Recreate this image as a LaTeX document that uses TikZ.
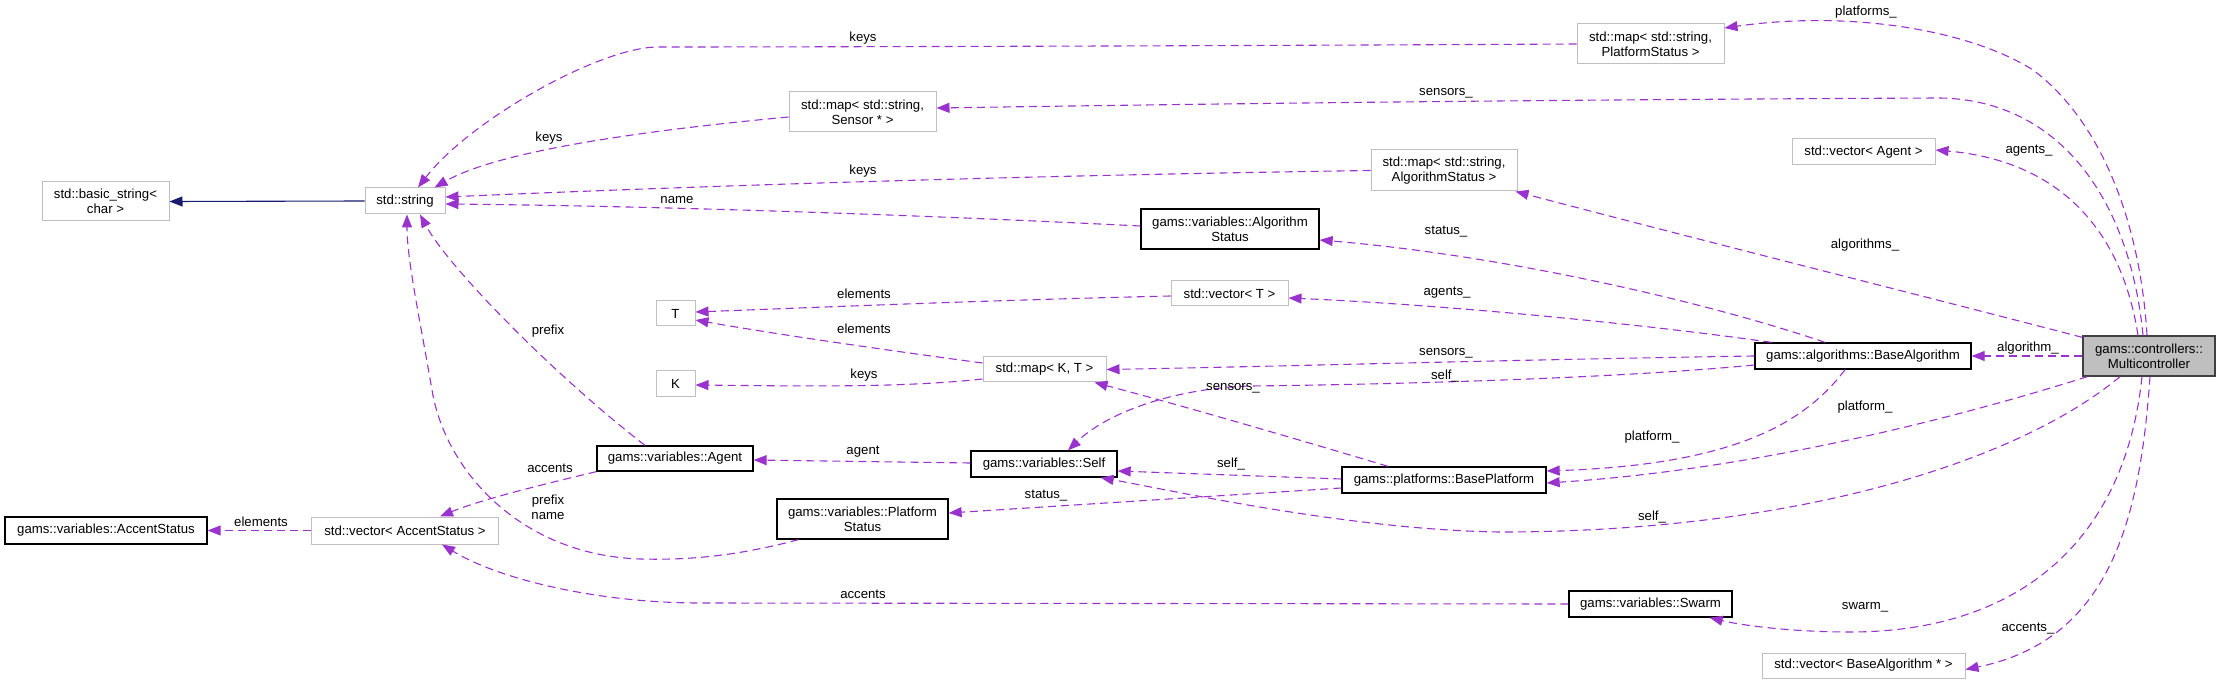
\documentclass[tikz,border=0pt]{standalone}
\usepackage{fontspec}
\setmainfont{Liberation Sans}
\usetikzlibrary{arrows.meta,calc}
\definecolor{edgec}{HTML}{9A32CD}
\definecolor{boxg}{HTML}{BFBFBF}
\definecolor{navyc}{HTML}{191970}
\definecolor{mcfill}{HTML}{BFBFBF}
\newcommand\diagfont{\fontsize{13.2}{14.7}\selectfont}
\begin{document}
\begin{tikzpicture}[x=1pt,y=-1pt,
  box/.style={rectangle, inner sep=0pt, align=center, font=\diagfont, fill=white},
  gbox/.style={box, draw=boxg, line width=1pt},
  bbox/.style={box, draw=black, line width=1.3pt},
  sz/.style 2 args={minimum width=#1pt, minimum height=#2pt},
  edge/.style={draw=edgec, line width=1.1pt, dash pattern=on 8pt off 5pt, -{Triangle[length=13pt,width=10pt]}},
  inh/.style={draw=navyc, line width=1.1pt, -{Triangle[length=13pt,width=10pt]}},
  lbl/.style={font=\diagfont, inner sep=0pt, align=center}]
\useasboundingbox (0,0) rectangle (2220,684);
% nodes
\node[gbox, sz={127}{39}] (basicstr) at (105.5,201.5) {std::basic\_string<\\char >};
\node[gbox, sz={80}{26}] (stdstring) at (405,201) {std::string};
\node[gbox, sz={147}{40}] (mapPS) at (1650.5,44) {std::map< std::string,\\PlatformStatus >};
\node[gbox, sz={147}{40}] (mapSensor) at (862.5,112) {std::map< std::string,\\Sensor * >};
\node[gbox, sz={146}{41}] (mapAS) at (1444,170.5) {std::map< std::string,\\AlgorithmStatus >};
\node[gbox, sz={143}{26}] (vecAgent) at (1863.5,152) {std::vector< Agent >};
\node[bbox, sz={178}{40}] (algStatus) at (1230,229) {gams::variables::Algorithm\\Status};
\node[gbox, sz={117}{25}] (vecT) at (1229.5,293.5) {std::vector< T >};
\node[gbox, sz={39}{25}] (nodeT) at (675.5,313.5) {T};
\node[gbox, sz={39}{26}] (nodeK) at (675.5,384) {K};
\node[gbox, sz={123}{25}] (mapKT) at (1044.5,369.5) {std::map< K, T >};
\node[bbox, sz={216}{26}] (baseAlg) at (1863,356) {gams::algorithms::BaseAlgorithm};
\node[box, draw=black!75, line width=1.3pt, fill=mcfill, sz={132}{40}] (multi) at (2149,356) {gams::controllers::\\Multicontroller};
\node[bbox, sz={156}{25}] (agent) at (675,458.5) {gams::variables::Agent};
\node[bbox, sz={146}{26}] (self) at (1044,464) {gams::variables::Self};
\node[bbox, sz={204}{26}] (basePlat) at (1444,480) {gams::platforms::BasePlatform};
\node[bbox, sz={171}{40}] (platStatus) at (862.5,519) {gams::variables::Platform\\Status};
\node[gbox, sz={187}{27}] (vecAccent) at (405,530.5) {std::vector< AccentStatus >};
\node[bbox, sz={202}{27}] (accentStatus) at (106,530.5) {gams::variables::AccentStatus};
\node[bbox, sz={163}{26}] (swarm) at (1650.5,604) {gams::variables::Swarm};
\node[gbox, sz={203}{25}] (vecBA) at (1863.5,665.5) {std::vector< BaseAlgorithm * >};
% edges
\draw[inh] (stdstring.west) -- (basicstr.east);
\draw[edge] (mapPS.west) .. controls (1200,46) and (800,47) .. (658,47) .. controls (600,47) and (470,120) .. ($(stdstring.north)+(13,0)$);
\draw[edge] ($(mapSensor.west)+(0,5)$) .. controls (650,130) and (500,150) .. ($(stdstring.north east)+(-11,0)$);
\draw[edge] (mapAS.west) .. controls (1000,176) and (700,186) .. ($(stdstring.east)+(0,-4)$);
\draw[edge] ($(algStatus.west)+(0,-3)$) .. controls (900,214) and (650,206) .. ($(stdstring.east)+(0,3)$);
\draw[edge] ($(agent.north)+(-30,0)$) .. controls (560,380) and (450,270) .. ($(stdstring.south)+(15,0)$);
\draw[edge] ($(platStatus.south west)+(22,0)$) .. controls (730,558) and (680,560) .. (640,559) .. controls (520,555) and (445,470) .. (432,390) .. controls (420,320) and (407,260) .. ($(stdstring.south)+(2,0)$);
\draw[edge] (agent.south west) .. controls (540,485) and (480,500) .. ($(vecAccent.north)+(35,0)$);
\draw[edge] (swarm.west) -- (700,603) .. controls (600,603) and (500,580) .. ($(vecAccent.south)+(37,0)$);
\draw[edge] (vecAccent.west) -- (accentStatus.east);
\draw[edge] ($(vecT.west)+(0,2.5)$) .. controls (1000,300) and (850,306) .. ($(nodeT.east)+(0,-1.5)$);
\draw[edge] ($(mapKT.west)+(0,-6.5)$) .. controls (900,352) and (780,335) .. ($(nodeT.east)+(0,6.5)$);
\draw[edge] ($(mapKT.west)+(0,9.5)$) .. controls (900,388) and (800,386) .. ($(nodeK.east)+(0,1)$);
\draw[edge] ($(baseAlg.north west)+(17,0)$) .. controls (1650,325) and (1450,305) .. ($(vecT.east)+(0,4.5)$);
\draw[edge] (baseAlg.west) .. controls (1500,360) and (1300,366) .. (mapKT.east);
\draw[edge] ($(baseAlg.west)+(0,9)$) .. controls (1600,380) and (1350,385) .. (1250,386) .. controls (1180,388) and (1110,410) .. ($(self.north)+(24,0)$);
\draw[edge] ($(basePlat.north)+(-56,0)$) .. controls (1300,440) and (1180,405) .. ($(mapKT.south east)+(-12,0)$);
\draw[edge] ($(basePlat.west)+(0,-1)$) -- ($(self.east)+(0,7)$);
\draw[edge] ($(basePlat.west)+(0,8)$) -- ($(platStatus.east)+(0,-6)$);
\draw[edge] ($(self.west)+(0,-1)$) -- ($(agent.east)+(0,1.5)$);
\draw[edge] ($(baseAlg.north)+(-38,0)$) .. controls (1700,300) and (1500,255) .. ($(algStatus.east)+(0,11)$);
\draw[edge] ($(baseAlg.south)+(-18,0)$) .. controls (1800,430) and (1720,465) .. ($(basePlat.east)+(0,-9)$);
\draw[edge] (multi.west) -- (baseAlg.east);
\draw[edge] ($(multi.south west)+(5,0)$) .. controls (1950,420) and (1750,470) .. ($(basePlat.east)+(0,3)$);
\draw[edge] ($(multi.south)+(-29,0)$) .. controls (2020,460) and (1800,532) .. (1500,532) .. controls (1350,530) and (1170,490) .. ($(self.south east)+(-17,0)$);
\draw[edge] ($(multi.south)+(-7,0)$) .. controls (2125,540) and (2020,632) .. (1850,632) .. controls (1790,632) and (1740,625) .. ($(swarm.south east)+(-23,0)$);
\draw[edge] ($(multi.south)+(1,0)$) .. controls (2140,520) and (2110,640) .. ($(vecBA.east)+(0,4)$);
\draw[edge] ($(multi.north)+(-2,0)$) .. controls (2140,220) and (2100,120) .. (2033,70) .. controls (1970,30) and (1850,10) .. ($(mapPS.east)+(0,-16)$);
\draw[edge] ($(multi.north)+(-6,0)$) .. controls (2130,200) and (2060,100) .. (1940,98) .. controls (1500,100) and (1200,104) .. ($(mapSensor.east)+(0,-4)$);
\draw[edge] ($(multi.north)+(-11,0)$) .. controls (2120,220) and (2050,160) .. ($(vecAgent.east)+(0,-2)$);
\draw[edge] ($(multi.north west)+(0,2)$) .. controls (1900,290) and (1700,240) .. ($(mapAS.south east)+(-2,0)$);
% labels
\node[lbl] (L1) at (863,38) {keys};
\node[lbl] (L2) at (549,138) {keys};
\node[lbl] (L3) at (863,171) {keys};
\node[lbl] (L4) at (677,200) {name};
\node[lbl] (L5) at (548,331) {prefix};
\node[lbl] (L6) at (548,507) {prefix\\name};
\node[lbl] (L7) at (550,468) {accents};
\node[lbl] (L8) at (863,594) {accents};
\node[lbl] (L9) at (261,522) {elements};
\node[lbl] (L10) at (864,294) {elements};
\node[lbl] (L11) at (864,329) {elements};
\node[lbl] (L12) at (864,375) {keys};
\node[lbl] (L13) at (1447,293) {agents\_};
\node[lbl] (L14) at (1446,353) {sensors\_};
\node[lbl] (L15) at (1445,376) {self\_};
\node[lbl] (L16) at (1233,388) {sensors\_};
\node[lbl] (L17) at (1231,464) {self\_};
\node[lbl] (L18) at (1046,496) {status\_};
\node[lbl] (L19) at (863,452) {agent};
\node[lbl] (L20) at (1446,232) {status\_};
\node[lbl] (L21) at (1652,437) {platform\_};
\node[lbl] (L22) at (2028,348) {algorithm\_};
\node[lbl] (L23) at (1865,407) {platform\_};
\node[lbl] (L24) at (1652,517) {self\_};
\node[lbl] (L25) at (1865,607) {swarm\_};
\node[lbl] (L26) at (2028,629) {accents\_};
\node[lbl] (L27) at (1866,12) {platforms\_};
\node[lbl] (L28) at (1446,93) {sensors\_};
\node[lbl] (L29) at (2029,151) {agents\_};
\node[lbl] (L30) at (1865,245) {algorithms\_};
\end{tikzpicture}
\end{document}
